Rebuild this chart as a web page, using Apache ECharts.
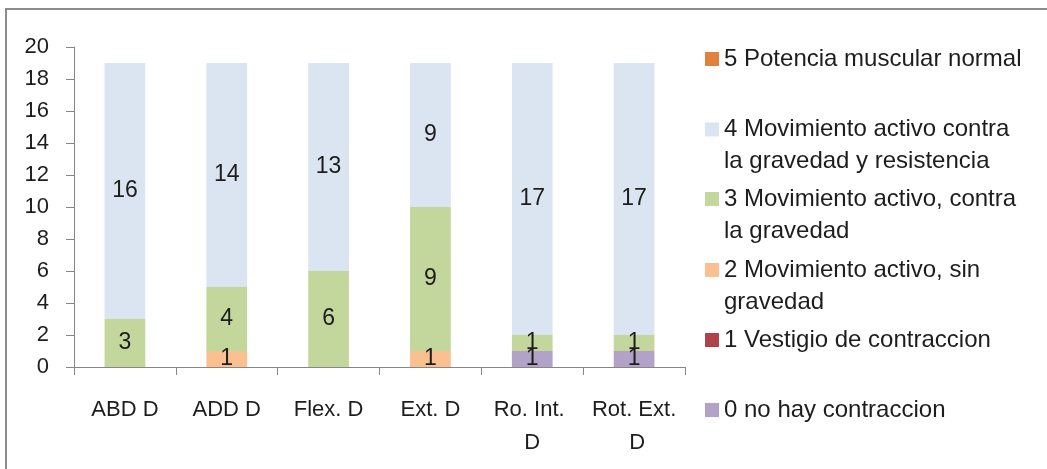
<!DOCTYPE html>
<html>
<head>
<meta charset="utf-8">
<script src="https://cdn.jsdelivr.net/npm/echarts@6/dist/echarts.min.js"></script>
<style>
    html, body { margin: 0; padding: 0; background: #fff; }
    #chart { width: 1047px; height: 469px; }
</style>
</head>
<body>
<div id="chart"></div>
<script>
// categorias (eje x)
const categories = ['ABD D', 'ADD D', 'Flex. D', 'Ext. D', 'Ro. Int. D', 'Rot. Ext. D'];

// valores por grado de potencia muscular
const grade0 = [0, 0, 0, 0, 1, 1];
const grade1 = [0, 0, 0, 0, 0, 0];
const grade2 = [0, 1, 0, 1, 0, 0];
const grade3 = [3, 4, 6, 9, 1, 1];
const grade4 = [16, 14, 13, 9, 17, 17];
const grade5 = [0, 0, 0, 0, 0, 0];

const seriesNames = [
    '0 no hay contraccion',
    '1 Vestigio de contraccion',
    '2 Movimiento activo, sin\ngravedad',
    '3 Movimiento activo, contra\nla gravedad',
    '4 Movimiento activo contra\nla gravedad y resistencia',
    '5 Potencia muscular normal',
];
const seriesData = [grade0, grade1, grade2, grade3, grade4, grade5];

// eje y
const yMin = 0;
const yMax = 20;
const yStep = 2;

const colors = ['#B3A2C7', '#B0434A', '#FAC090', '#C3D69B', '#DBE5F1', '#E0823D'];
const font = 'Liberation Sans';
const textColor = '#1d1d1d';
const axisColor = '#868686';

// centro vertical de cada marcador de la leyenda (de arriba hacia abajo: 5 ... 0)
const legendCenters = [59, 129.5, 199, 270, 340, 410];
const LINE_H = 32;

let legends = [];
for (let k = 0; k < 6; k++) {
    const idx = 5 - k;
    const lines = seriesNames[idx].split('\n').length;
    legends.push({
        show: true,
        left: 705,
        top: legendCenters[k] - (2 * lines - 1) * LINE_H / 2,
        padding: 0,
        itemWidth: 14,
        itemHeight: 14,
        itemGap: 0,
        icon: 'rect',
        selectedMode: false,
        data: [seriesNames[idx]],
        // una linea vacia arriba para que el marcador quede en la primera linea
        formatter: (name) => (lines > 1 ? '\n' + name : name),
        textStyle: {
            fontFamily: font,
            fontSize: 24,
            color: textColor,
            lineHeight: LINE_H,
        },
    });
}

let option = {
    backgroundColor: '#fff',
    animation: false,
    color: colors,
    legend: legends,
    grid: {
        left: 74,
        top: 47,
        right: 362,
        bottom: 102,
        containLabel: false,
    },
    xAxis: {
        type: 'category',
        data: categories,
        axisLine: { lineStyle: { color: axisColor, width: 1 } },
        axisTick: { show: true, length: 8, lineStyle: { color: axisColor } },
        axisLabel: {
            interval: 0,
            margin: 26,
            fontFamily: font,
            fontSize: 22,
            lineHeight: 33,
            color: textColor,
            width: 90,
            overflow: 'break',
        },
    },
    yAxis: {
        type: 'value',
        min: yMin,
        max: yMax,
        interval: yStep,
        splitLine: { show: false },
        axisLine: { show: true, lineStyle: { color: axisColor, width: 1 } },
        axisTick: { show: true, length: 8, lineStyle: { color: axisColor } },
        axisLabel: {
            margin: 25,
            fontFamily: font,
            fontSize: 22,
            color: textColor,
        },
    },
    graphic: [
        {
            type: 'rect',
            shape: { x: 6, y: 9, width: 1100, height: 520 },
            style: { fill: 'none', stroke: '#8c8c8c', lineWidth: 2 },
            silent: true,
        },
    ],
    series: seriesNames.map((name, i) => ({
        name: name,
        type: 'bar',
        stack: 'total',
        barWidth: '40%',
        data: seriesData[i],
        itemStyle: { color: colors[i] },
        emphasis: { disabled: true },
        label: {
            show: true,
            position: 'inside',
            fontFamily: font,
            fontSize: 23,
            color: textColor,
            formatter: (p) => (p.value ? String(p.value) : ''),
        },
    })),
};

let chart = echarts.init(document.getElementById('chart'));
chart.setOption(option);
window.addEventListener('resize', () => {
    chart.resize();
});
</script>
</body>
</html>
